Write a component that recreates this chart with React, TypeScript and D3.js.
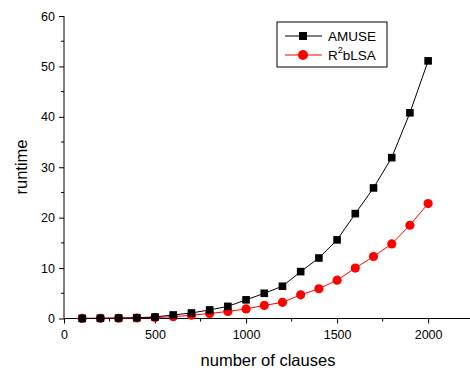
import React, { useEffect, useRef } from 'react';
import * as d3 from 'd3';

// clauses on x, runtime on y
const clauses = [100, 200, 300, 400, 500, 600, 700, 800, 900, 1000,
  1100, 1200, 1300, 1400, 1500, 1600, 1700, 1800, 1900, 2000];
const amuse = [0.02, 0.05, 0.1, 0.15, 0.3, 0.7, 1.1, 1.7, 2.4, 3.7,
  5.0, 6.4, 9.3, 12.0, 15.6, 20.8, 25.9, 31.9, 40.8, 51.1];
const r2blsa = [0.01, 0.03, 0.05, 0.1, 0.2, 0.35, 0.65, 1.0, 1.4, 1.9,
  2.6, 3.2, 4.7, 5.9, 7.6, 10.0, 12.3, 14.8, 18.5, 22.8];
const xTicks = [0, 500, 1000, 1500, 2000];
const yTicks = [0, 10, 20, 30, 40, 50, 60];

const W = 470;
const H = 372;
const FONT = '"Liberation Sans", Arial, sans-serif';

export default function App() {
  const ref = useRef<SVGSVGElement>(null);

  useEffect(() => {
    const svg = d3.select(ref.current);
    svg.selectAll('*').remove();

    const left = 64, right = 470, top = 16, bottom = 318.5;
    const x = d3.scaleLinear().domain([0, 2230]).range([left, right]);
    const y = d3.scaleLinear().domain([0, 60]).range([bottom, top]);

    // axes
    const xAxis = d3.axisBottom(x).tickValues(xTicks).tickSize(5).tickPadding(7)
      .tickFormat(d3.format('d'));
    const gx = svg.append('g').attr('transform', `translate(0,${bottom})`).call(xAxis);
    gx.select('.domain').attr('d', `M${left},0H${right}`);
    const xMinor = d3.range(250, 2230, 500);
    gx.selectAll('.minor').data(xMinor).enter().append('line')
      .attr('x1', d => x(d)).attr('x2', d => x(d)).attr('y1', 0).attr('y2', 3)
      .attr('stroke', '#000');

    const yAxis = d3.axisLeft(y).tickValues(yTicks).tickSize(5).tickPadding(4);
    const gy = svg.append('g').attr('transform', `translate(${left},0)`).call(yAxis);
    gy.select('.domain').attr('d', `M0,${top}V${bottom}`);
    gy.selectAll('.minor').data(d3.range(5, 60, 10)).enter().append('line')
      .attr('x1', 0).attr('x2', -3).attr('y1', d => y(d)).attr('y2', d => y(d))
      .attr('stroke', '#000');

    svg.selectAll('.tick text').attr('font-family', FONT).attr('font-size', 12.5).attr('fill', '#000');

    // axis titles
    svg.append('text').attr('x', 268).attr('y', 366).attr('text-anchor', 'middle')
      .attr('font-family', FONT).attr('font-size', 16.5).text('number of clauses');
    svg.append('text').attr('transform', 'translate(27,167) rotate(-90)').attr('text-anchor', 'middle')
      .attr('font-family', FONT).attr('font-size', 16.5).text('runtime');

    const line = d3.line<number>().x((d, i) => x(clauses[i])).y(d => y(d));

    // R2bLSA
    svg.append('path').datum(r2blsa).attr('d', line).attr('fill', 'none')
      .attr('stroke', '#ff0000').attr('stroke-width', 1);
    svg.append('g').selectAll('circle').data(r2blsa).enter().append('circle')
      .attr('cx', (d, i) => x(clauses[i])).attr('cy', d => y(d)).attr('r', 4.6)
      .attr('fill', '#ff0000');

    // AMUSE
    svg.append('path').datum(amuse).attr('d', line).attr('fill', 'none')
      .attr('stroke', '#000').attr('stroke-width', 1);
    svg.append('g').selectAll('rect').data(amuse).enter().append('rect')
      .attr('x', (d, i) => x(clauses[i]) - 3.8).attr('y', d => y(d) - 3.8)
      .attr('width', 7.6).attr('height', 7.6).attr('fill', '#000');

    // legend
    const lg = svg.append('g').attr('transform', 'translate(277,22)');
    lg.append('rect').attr('width', 110).attr('height', 45).attr('fill', '#fff')
      .attr('stroke', '#000').attr('stroke-width', 1);
    lg.append('line').attr('x1', 8).attr('x2', 45).attr('y1', 14).attr('y2', 14).attr('stroke', '#000');
    lg.append('rect').attr('x', 22).attr('y', 10).attr('width', 8).attr('height', 8).attr('fill', '#000');
    lg.append('text').attr('x', 51).attr('y', 19).attr('font-family', FONT).attr('font-size', 13.5).text('AMUSE');
    lg.append('line').attr('x1', 8).attr('x2', 45).attr('y1', 33).attr('y2', 33).attr('stroke', '#ff0000');
    lg.append('circle').attr('cx', 26).attr('cy', 33).attr('r', 5).attr('fill', '#ff0000');
    const t = lg.append('text').attr('x', 51).attr('y', 38).attr('font-family', FONT).attr('font-size', 13.5);
    t.append('tspan').text('R');
    t.append('tspan').attr('dx', 0).attr('dy', -7).attr('font-size', 9).text('2');
    t.append('tspan').attr('dx', 0).attr('dy', 7).text('bLSA');
  }, []);

  return (
    <div style={{ position: 'absolute', left: 0, top: 0 }}>
      <svg ref={ref} width={W} height={H} style={{ display: 'block', background: '#fff' }} />
    </div>
  );
}
